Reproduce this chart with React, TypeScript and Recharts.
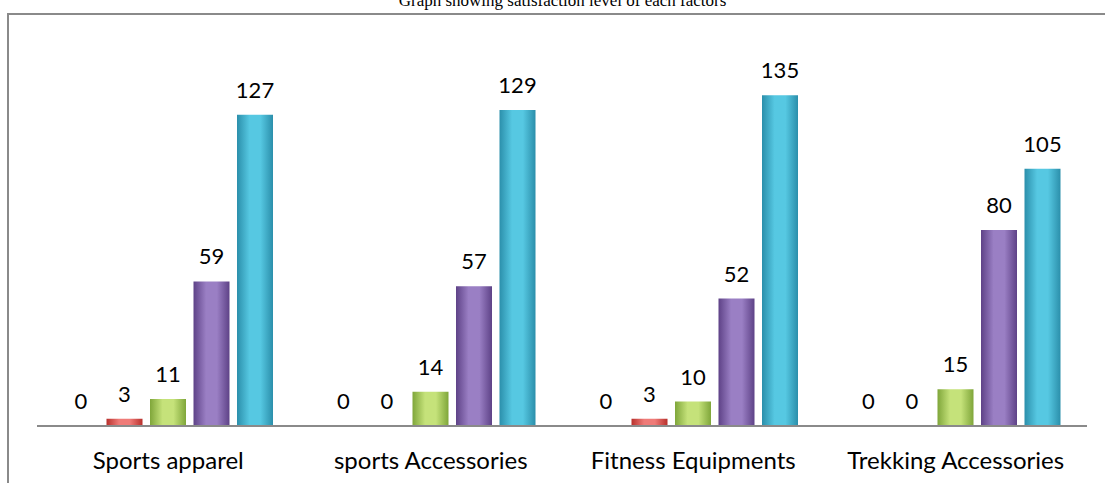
import { BarChart, Bar, XAxis, YAxis, LabelList, Cell } from 'recharts'

const categories = ['Sports apparel', 'sports Accessories', 'Fitness Equipments', 'Trekking Accessories']
const highlyDissatisfied = [0, 0, 0, 0]
const dissatisfied = [3, 0, 3, 0]
const neutral = [11, 14, 10, 15]
const satisfied = [59, 57, 52, 80]
const highlySatisfied = [127, 129, 135, 105]

const series = [
  { key: 's1', name: 'Highly dissatisfied', values: highlyDissatisfied, light: '#8fb0dc', dark: '#3a6aa8' },
  { key: 's2', name: 'Dissatisfied', values: dissatisfied, light: '#ef7b78', dark: '#b8302c' },
  { key: 's3', name: 'Neutral', values: neutral, light: '#c5e27a', dark: '#7fa63a' },
  { key: 's4', name: 'Satisfied', values: satisfied, light: '#9a7fc4', dark: '#5e4287' },
  { key: 's5', name: 'Highly satisfied', values: highlySatisfied, light: '#56c8e2', dark: '#2b8fab' },
]

const data = categories.map((c, i) => {
  const row: Record<string, string | number> = { category: c }
  series.forEach((s) => {
    row[s.key] = s.values[i]
  })
  return row
})

const font = 'Lato, "Open Sans", sans-serif'

// zero bars still need their "0" label, so draw the label ourselves
const renderValue = (props: any) => {
  const { x, y, width, value } = props
  return (
    <text
      x={Number(x) + Number(width) / 2}
      y={Number(y) - 17}
      textAnchor="middle"
      style={{ fontSize: 22, fill: '#000', fontFamily: font }}
    >
      {value}
    </text>
  )
}

export default function App() {
  return (
    <div style={{ position: 'absolute', left: 0, top: 0, width: 1105, height: 483, overflow: 'hidden', background: '#fff' }}>
      {/* title, cut off at the top like the scan */}
      <div
        style={{
          position: 'absolute',
          top: -8,
          left: 0,
          width: 1125,
          textAlign: 'center',
          fontFamily: '"Liberation Serif", "Times New Roman", serif',
          fontSize: 17,
          lineHeight: '17px',
          color: '#000',
        }}
      >
        Graph showing satisfaction level of each factors
      </div>
      {/* frame */}
      <div
        style={{
          position: 'absolute',
          left: 7,
          top: 13,
          width: 1200,
          height: 600,
          border: '2px solid #8a8a8a',
        }}
      />
      <div style={{ position: 'absolute', left: 0, top: 0 }}>
        <BarChart
          width={1105}
          height={483}
          data={data}
          margin={{ top: 34, right: 18, left: 37, bottom: 0 }}
          barSize={36}
          barGap={7.5}
        >
          <defs>
            {series.map((s) => (
              <linearGradient key={s.key} id={`grad-${s.key}`} x1="0" y1="0" x2="1" y2="0">
                <stop offset="0%" stopColor={s.dark} />
                <stop offset="35%" stopColor={s.light} />
                <stop offset="65%" stopColor={s.light} />
                <stop offset="100%" stopColor={s.dark} />
              </linearGradient>
            ))}
          </defs>
          <XAxis
            dataKey="category"
            height={57}
            axisLine={{ stroke: '#8a8a8a', strokeWidth: 2 }}
            tickLine={false}
            interval={0}
            tick={{ fontSize: 24, fill: '#000', fontFamily: font, dy: 18 }}
          />
          <YAxis hide domain={[0, 160]} />
          {series.map((s) => (
            <Bar
              key={s.key}
              dataKey={s.key}
              name={s.name}
              fill={`url(#grad-${s.key})`}
              minPointSize={0.5}
              isAnimationActive={false}
            >
              {s.values.map((v, i) => (
                <Cell key={i} fill={v === 0 ? 'transparent' : `url(#grad-${s.key})`} />
              ))}
              <LabelList dataKey={s.key} content={renderValue} />
            </Bar>
          ))}
        </BarChart>
      </div>
    </div>
  )
}
